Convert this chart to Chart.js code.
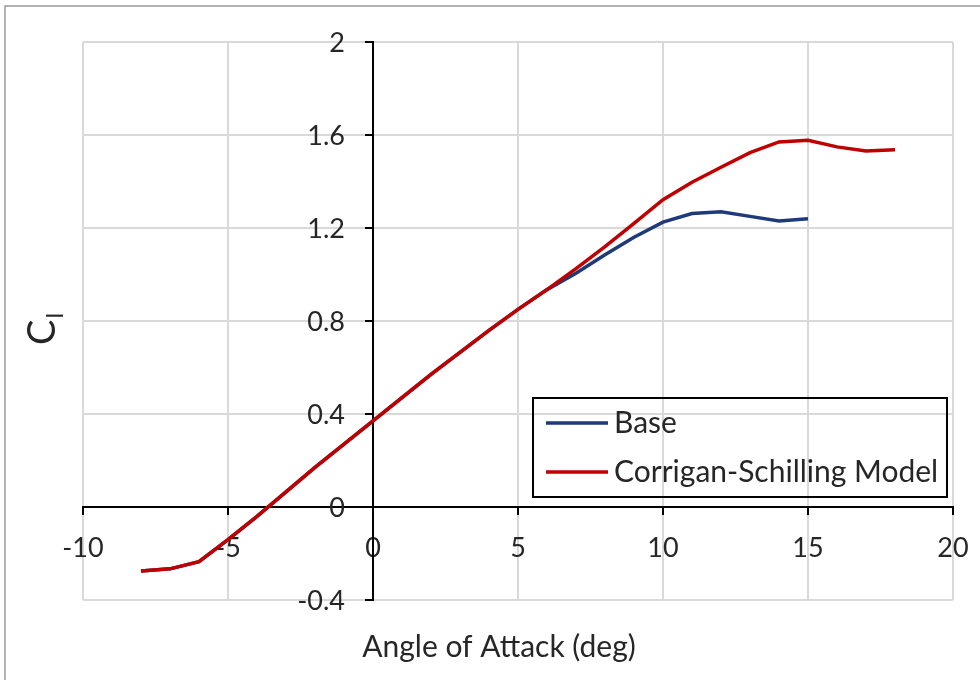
<!DOCTYPE html>
<html>
<head>
<meta charset="utf-8">
<title>Lift coefficient vs angle of attack</title>
<script src="https://cdn.jsdelivr.net/npm/chart.js@4"></script>
<style>
  html, body { margin: 0; padding: 0; background: #fff; }
  #wrap { position: relative; width: 980px; height: 680px; }
</style>
</head>
<body>
<div id="wrap"><canvas id="clChart" width="980" height="680"></canvas></div>
<script>
// angle of attack (deg) and lift coefficient for each run
const baseAlpha = [-8, -7, -6, -5, -4, -3, -2, -1, 0, 1, 2, 3, 4, 5, 6, 7, 8, 9, 10, 11, 12, 13, 14, 15]
const baseCl = [-0.275, -0.266, -0.235, -0.14, -0.04, 0.065, 0.17, 0.27, 0.37, 0.47, 0.57, 0.665,
  0.76, 0.85, 0.935, 1.005, 1.085, 1.16, 1.225, 1.262, 1.27, 1.25, 1.23, 1.24]

const csAlpha = [-8, -7, -6, -5, -4, -3, -2, -1, 0, 1, 2, 3, 4, 5, 6, 7, 8, 9, 10, 11, 12, 13, 14, 15, 16, 17, 18]
const csCl = [-0.275, -0.266, -0.235, -0.14, -0.04, 0.065, 0.17, 0.27, 0.37, 0.47, 0.57, 0.665,
  0.76, 0.85, 0.935, 1.025, 1.12, 1.22, 1.322, 1.397, 1.461, 1.524, 1.57, 1.577, 1.549, 1.531, 1.537]

const seriesLabels = ['Base', 'Corrigan-Schilling Model']
const seriesColors = ['#1F3A78', '#C00000']

const xTitle = 'Angle of Attack (deg)'
const FONT = 'Lato'
const TEXT = '#262626'

const toPoints = (xs, ys) => xs.map((x, i) => ({ x: x, y: ys[i] }))
const fmtCl = (v) => String(parseFloat(v.toFixed(1)))

// frame, y tick labels, axis titles and the boxed legend inside the plot
const decorations = {
  id: 'decorations',
  beforeDraw(chart) {
    const ctx = chart.ctx
    ctx.save()
    ctx.fillStyle = '#fff'
    ctx.fillRect(0, 0, chart.width, chart.height)
    ctx.strokeStyle = '#9a9a9a'
    ctx.lineWidth = 1.5
    ctx.beginPath()
    ctx.moveTo(5, chart.height + 5)
    ctx.lineTo(5, 6)
    ctx.lineTo(chart.width + 5, 6)
    ctx.stroke()
    ctx.restore()
  },
  afterDraw(chart) {
    const ctx = chart.ctx
    const xs = chart.scales.x
    const ys = chart.scales.y
    ctx.save()
    ctx.fillStyle = TEXT

    // y tick labels, left of the crossing axis
    ctx.font = '27px ' + FONT
    ctx.textAlign = 'right'
    ctx.textBaseline = 'middle'
    const axisX = xs.getPixelForValue(0)
    ys.ticks.forEach((t) => {
      ctx.fillText(fmtCl(t.value), axisX - 28, ys.getPixelForValue(t.value) + 1)
    })

    // x title
    ctx.font = '30px ' + FONT
    ctx.textAlign = 'center'
    ctx.fillText(xTitle, 499, 647)

    // y title: C with subscript l, rotated
    ctx.translate(55, 345)
    ctx.rotate(-Math.PI / 2)
    ctx.textAlign = 'left'
    ctx.textBaseline = 'alphabetic'
    ctx.font = '38px ' + FONT
    ctx.fillText('C', 0, 0)
    const cw = ctx.measureText('C').width
    ctx.font = '24px ' + FONT
    ctx.fillText('l', cw + 1, 8)
    ctx.restore()

    // legend
    ctx.save()
    ctx.strokeStyle = '#000'
    ctx.lineWidth = 2
    ctx.strokeRect(533, 398, 414, 99)
    ctx.font = '30px ' + FONT
    ctx.textBaseline = 'middle'
    ctx.textAlign = 'left'
    seriesLabels.forEach((label, i) => {
      const y = 423 + i * 49
      ctx.strokeStyle = seriesColors[i]
      ctx.lineWidth = 3.5
      ctx.beginPath()
      ctx.moveTo(546, y)
      ctx.lineTo(608, y)
      ctx.stroke()
      ctx.fillStyle = TEXT
      ctx.fillText(label, 614, y)
    })
    ctx.restore()
  }
}

const config = {
  type: 'line',
  data: {
    datasets: [
      {
        label: seriesLabels[0],
        data: toPoints(baseAlpha, baseCl),
        borderColor: seriesColors[0],
        borderWidth: 3.5,
        pointRadius: 0,
        tension: 0,
        order: 1
      },
      {
        label: seriesLabels[1],
        data: toPoints(csAlpha, csCl),
        borderColor: seriesColors[1],
        borderWidth: 3.5,
        pointRadius: 0,
        tension: 0,
        order: 0
      }
    ]
  },
  options: {
    responsive: false,
    animation: false,
    layout: { padding: { left: 83, top: 42, right: 27, bottom: 80 } },
    plugins: {
      legend: { display: false },
      tooltip: { enabled: false }
    },
    scales: {
      x: {
        type: 'linear',
        position: { y: 0 },
        min: -10,
        max: 20,
        ticks: { stepSize: 5, padding: 18, color: TEXT, font: { family: FONT, size: 27 } },
        grid: { color: '#d9d9d9', lineWidth: 2, tickColor: '#000', tickLength: 7 },
        border: { color: '#000', width: 2 },
        // the layout padding already leaves room for the end labels
        afterFit: (scale) => {
          scale.paddingLeft = 0
          scale.paddingRight = 0
        }
      },
      y: {
        type: 'linear',
        position: { x: 0 },
        min: -0.4,
        max: 2,
        ticks: { stepSize: 0.4, display: false },
        grid: { color: '#d9d9d9', lineWidth: 2, tickColor: '#000', tickLength: 7 },
        border: { color: '#000', width: 2 }
      }
    }
  },
  plugins: [decorations]
}

const clChart = new Chart(document.getElementById('clChart'), config)
</script>
</body>
</html>
